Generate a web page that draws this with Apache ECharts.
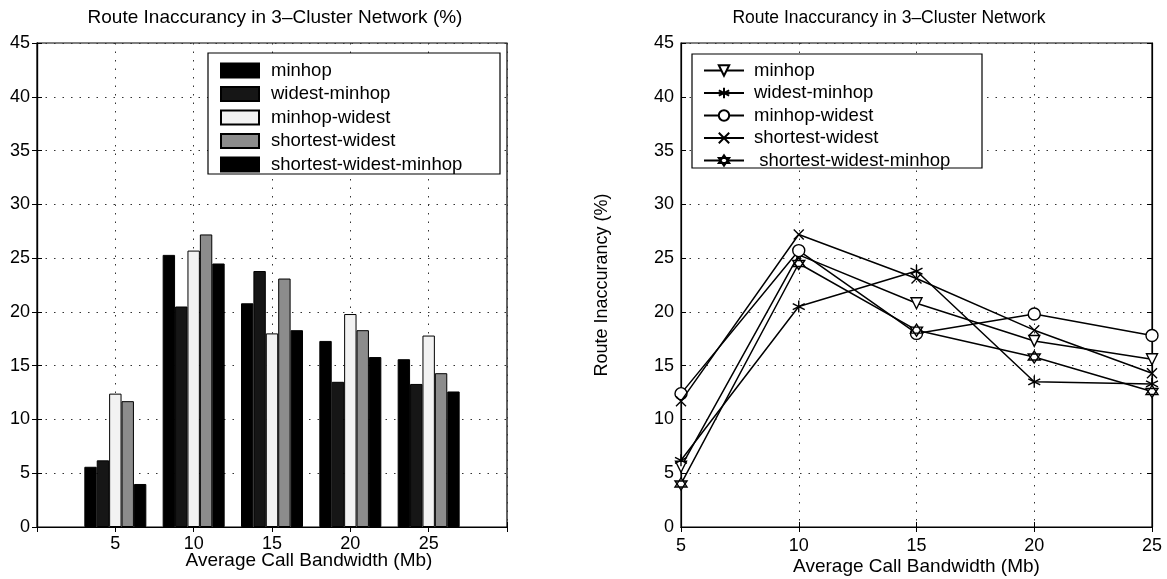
<!DOCTYPE html>
<html>
<head>
<meta charset="utf-8">
<script src="https://cdn.jsdelivr.net/npm/echarts@6/dist/echarts.min.js"></script>
<style>
html,body{margin:0;padding:0;background:#fff;}
#c{width:1167px;height:579px;}
</style>
</head>
<body>
<div id="c"></div>
<script>
// ---- data ----
const bandwidth = [5, 10, 15, 20, 25];
const seriesNames = ['minhop', 'widest-minhop', 'minhop-widest', 'shortest-widest', 'shortest-widest-minhop'];
const minhop = [5.6, 25.3, 20.8, 17.3, 15.6];
const widestMinhop = [6.2, 20.5, 23.8, 13.5, 13.3];
const minhopWidest = [12.4, 25.7, 18.0, 19.8, 17.8];
const shortestWidest = [11.7, 27.2, 23.1, 18.3, 14.3];
const shortestWidestMinhop = [4.0, 24.5, 18.3, 15.8, 12.6];
const yTicks = [0, 5, 10, 15, 20, 25, 30, 35, 40, 45];
const leftTitle = 'Route Inaccurancy in 3\u2013Cluster Network (%)';
const rightTitle = 'Route Inaccurancy in 3\u2013Cluster Network';
const xName = 'Average Call Bandwidth (Mb)';
const yName = 'Route Inaccurancy (%)';

const allValues = [minhop, widestMinhop, minhopWidest, shortestWidest, shortestWidestMinhop];
const barColors = ['#000000', '#161616', '#f2f2f2', '#8c8c8c', '#000000'];
const FONT = 'Liberation Sans, Arial, Helvetica, sans-serif';

const chart = echarts.init(document.getElementById('c'));

const dotted = { color: '#333', width: 1, type: [1.5, 7] };
const labelStyle = { color: '#000', fontSize: 18, fontFamily: FONT };
const nameStyle = { color: '#000', fontSize: 19, fontFamily: FONT };
const axisLine = { show: true, lineStyle: { color: '#000', width: 1.2 } };
const tickIn = { show: true, inside: true, length: 5, lineStyle: { color: '#000', width: 1 } };

function pairs(vals) { return bandwidth.map((x, i) => [x, vals[i]]); }

const hexPath = 'path://M0,-10L8.66,5L-8.66,5ZM0,10L-8.66,-5L8.66,-5Z';
const starPath = 'path://M0,-10L0,10M-8.66,-5L8.66,5M-8.66,5L8.66,-5';
const xPath = 'path://M-7,-7L7,7M-7,7L7,-7';

const lineSymbols = [
  { symbol: 'triangle', rotate: 180, fill: '#fff', size: 11 },
  { symbol: starPath, rotate: 0, fill: 'none', size: 12 },
  { symbol: 'circle', rotate: 0, fill: '#fff', size: 12 },
  { symbol: xPath, rotate: 0, fill: 'none', size: 10 },
  { symbol: hexPath, rotate: 0, fill: '#fff', size: 12 }
];

const barSeries = seriesNames.map((n, i) => ({
  name: n,
  type: 'bar',
  xAxisIndex: 0, yAxisIndex: 0,
  data: pairs(allValues[i]),
  barWidth: 12.4,
  barGap: '0%',
  itemStyle: { color: barColors[i], borderColor: '#000', borderWidth: 1 },
  emphasis: { disabled: true },
  animation: false
}));

const lineSeries = seriesNames.map((n, i) => ({
  name: n + ' ',
  type: 'line',
  xAxisIndex: 2, yAxisIndex: 2,
  data: pairs(allValues[i]),
  symbol: lineSymbols[i].symbol,
  symbolRotate: lineSymbols[i].rotate,
  symbolSize: lineSymbols[i].size,
  showAllSymbol: true,
  lineStyle: { color: '#000', width: 1.5 },
  itemStyle: { color: lineSymbols[i].fill, borderColor: '#000', borderWidth: 1.4 },
  emphasis: { disabled: true },
  animation: false,
  z: 5 + i
}));

const option = {
  backgroundColor: '#fff',
  animation: false,
  textStyle: { fontFamily: FONT },
  grid: [
    { left: 37, top: 43, width: 470, height: 484, containLabel: false, outerBoundsMode: 'none', show: true, borderColor: '#000', borderWidth: 1.2, backgroundColor: 'transparent' },
    { left: 681, top: 43, width: 471, height: 484, containLabel: false, outerBoundsMode: 'none', show: true, borderColor: '#000', borderWidth: 1.2, backgroundColor: 'transparent' }
  ],
  xAxis: [
    { type: 'value', gridIndex: 0, min: 0, max: 30, interval: 5, position: 'bottom',
      axisLine: axisLine, axisTick: tickIn,
      axisLabel: { ...labelStyle, margin: 8, formatter: v => (v === 0 || v === 30) ? '' : String(v) },
      splitLine: { show: true, lineStyle: dotted },
      name: xName, nameLocation: 'middle', nameGap: 24, nameMoveOverlap: false,
      nameTextStyle: { ...nameStyle, padding: [0, 0, 0, 74] } },
    { type: 'value', gridIndex: 0, min: 0, max: 30, interval: 5, position: 'top',
      axisLine: axisLine, axisTick: tickIn, axisLabel: { show: false }, splitLine: { show: false } },
    { type: 'value', gridIndex: 1, min: 5, max: 25, interval: 5, position: 'bottom',
      axisLine: axisLine, axisTick: tickIn,
      axisLabel: { ...labelStyle, margin: 10 },
      splitLine: { show: true, lineStyle: dotted },
      name: xName, nameLocation: 'middle', nameGap: 30, nameMoveOverlap: false, nameTextStyle: nameStyle },
    { type: 'value', gridIndex: 1, min: 5, max: 25, interval: 5, position: 'top',
      axisLine: axisLine, axisTick: tickIn, axisLabel: { show: false }, splitLine: { show: false } }
  ],
  yAxis: [
    { type: 'value', gridIndex: 0, min: yTicks[0], max: yTicks[yTicks.length - 1], interval: 5, position: 'left',
      axisLine: axisLine, axisTick: tickIn,
      axisLabel: { ...labelStyle, margin: 7 },
      splitLine: { show: true, lineStyle: dotted } },
    { type: 'value', gridIndex: 0, min: 0, max: 45, interval: 5, position: 'right',
      axisLine: axisLine, axisTick: tickIn, axisLabel: { show: false }, splitLine: { show: false } },
    { type: 'value', gridIndex: 1, min: yTicks[0], max: yTicks[yTicks.length - 1], interval: 5, position: 'left',
      axisLine: axisLine, axisTick: tickIn,
      axisLabel: { ...labelStyle, margin: 7 },
      splitLine: { show: true, lineStyle: dotted },
      name: yName, nameLocation: 'middle', nameGap: 70, nameMoveOverlap: false, nameTextStyle: { ...nameStyle, fontSize: 18 } },
    { type: 'value', gridIndex: 1, min: 0, max: 45, interval: 5, position: 'right',
      axisLine: axisLine, axisTick: tickIn, axisLabel: { show: false }, splitLine: { show: false } }
  ],
  legend: [
    { data: seriesNames, orient: 'vertical', left: 220, top: 61, padding: 0, z: 20,
      itemWidth: 38, itemHeight: 14, itemGap: 4.5, icon: 'rect', selectedMode: false,
      textStyle: { color: '#000', fontSize: 18.5, lineHeight: 18, fontFamily: FONT, padding: [0, 0, 0, 7] } },
    { data: seriesNames.map(n => n + ' '), orient: 'vertical', left: 703, top: 61, padding: 0, z: 20,
      itemWidth: 40, itemHeight: 13, itemGap: 3.5, selectedMode: false,
      formatter: n => (n.trim() === 'shortest-widest-minhop' ? ' ' : '') + n.trim(),
      textStyle: { color: '#000', fontSize: 18.5, lineHeight: 18, fontFamily: FONT, padding: [0, 0, 0, 5] } }
  ],
  graphic: [
    { type: 'rect', shape: { x: 208, y: 53, width: 292, height: 121 }, style: { fill: '#fff', stroke: '#000', lineWidth: 1.2 }, z: 3 },
    { type: 'rect', shape: { x: 692, y: 54, width: 290, height: 114 }, style: { fill: '#fff', stroke: '#000', lineWidth: 1.2 }, z: 3 },
    { type: 'text', x: 275, y: 18, z: 3, style: { text: leftTitle, fill: '#000', font: '19px ' + FONT, textAlign: 'center', textVerticalAlign: 'middle' } },
    { type: 'text', x: 889, y: 18, z: 3, style: { text: rightTitle, fill: '#000', font: '17.5px ' + FONT, textAlign: 'center', textVerticalAlign: 'middle' } }
  ],
  series: barSeries.concat(lineSeries)
};
chart.setOption(option);
</script>
</body>
</html>
